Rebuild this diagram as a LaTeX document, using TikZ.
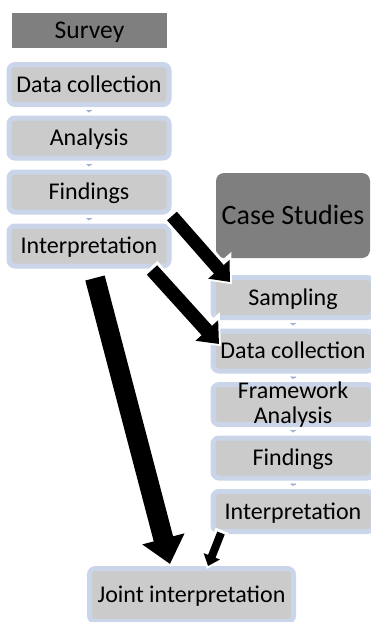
\documentclass[tikz,border=0pt]{standalone}
\usepackage{fontspec}
\setmainfont{Carlito}
\usetikzlibrary{arrows.meta}
\definecolor{titlegray}{HTML}{7F7F7F}
\definecolor{stepgray}{HTML}{CBCBCB}
\definecolor{stepblue}{HTML}{CAD5EA}
\definecolor{linkblue}{HTML}{9DB0D8}
\tikzset{
  stepbox/.style={draw=stepblue, line width=5pt, fill=stepgray, rounded corners=6pt,
    minimum width=160pt, minimum height=40pt, inner sep=0pt, text height=15pt, text depth=0pt},
  titlebox/.style={fill=titlegray, inner sep=0pt, text height=15pt, text depth=0pt},
  link/.style={draw=linkblue, line width=5pt, shorten <=3pt, shorten >=3pt,
    -{Triangle[length=2.5pt, width=6pt]}},
  bigarrow/.style={line width=#1, -{Triangle[length=0pt 1.3, width=0pt 2.1]},
    preaction={draw=white, line width=#1+6pt, shorten >=-3pt, shorten <=-3pt}}
}
\begin{document}
\begin{tikzpicture}[x=1pt, y=-1pt, font=\fontsize{24}{25}\selectfont]
  \useasboundingbox (0,0) rectangle (371,622);
  % survey side
  \node[titlebox, minimum width=155pt, minimum height=35pt, text height=16pt,
    font=\fontsize{25.5}{27}\selectfont] (survey) at (89.5,30.5) {Survey};
  \node[stepbox] (sdc) at (89,84.5) {Data collection};
  \node[stepbox] (san) at (89,138) {Analysis};
  \node[stepbox] (sfi) at (89,192) {Findings};
  \node[stepbox] (sin) at (89,246) {Interpretation};
  \draw[link] (sdc) -- (san);
  \draw[link] (san) -- (sfi);
  \draw[link] (sfi) -- (sin);
  % case studies side
  \node[titlebox, rounded corners=8pt, minimum width=154pt, minimum height=85pt, text height=18pt,
    font=\fontsize{28}{30}\selectfont] (case) at (293,215.5) {Case Studies};
  \node[stepbox] (csa) at (293,297.5) {Sampling};
  \node[stepbox] (cdc) at (293,351) {Data collection};
  \node[stepbox, label={[align=center]center:{Framework\\Analysis}}] (cfa) at (293,404.5) {};
  \node[stepbox] (cfi) at (293,458) {Findings};
  \node[stepbox] (cin) at (293,511.5) {Interpretation};
  \draw[link] (csa) -- (cdc);
  \draw[link] (cdc) -- (cfa);
  \draw[link] (cfa) -- (cfi);
  \draw[link] (cfi) -- (cin);
  % joint
  \node[stepbox, minimum width=204pt, minimum height=53pt] (joint) at (191.5,595) {Joint interpretation};
  % block arrows
  \coordinate (a1s) at (172,216); \coordinate (a1e) at (230,282);
  \coordinate (a2s) at (152,270); \coordinate (a2e) at (219,344);
  \coordinate (a3s) at (95,278);  \coordinate (a3e) at (170,564);
  \coordinate (a4s) at (221,533); \coordinate (a4e) at (208,566);
  \draw[bigarrow=13pt] (a1s) -- (a1e); %vers Sampling
  \draw[bigarrow=14pt] (a2s) -- (a2e); %vers Data collection
  \draw[bigarrow=20pt] (a3s) -- (a3e); %vers joint
  \draw[bigarrow=8pt] (a4s) -- (a4e);
\end{tikzpicture}
\end{document}
